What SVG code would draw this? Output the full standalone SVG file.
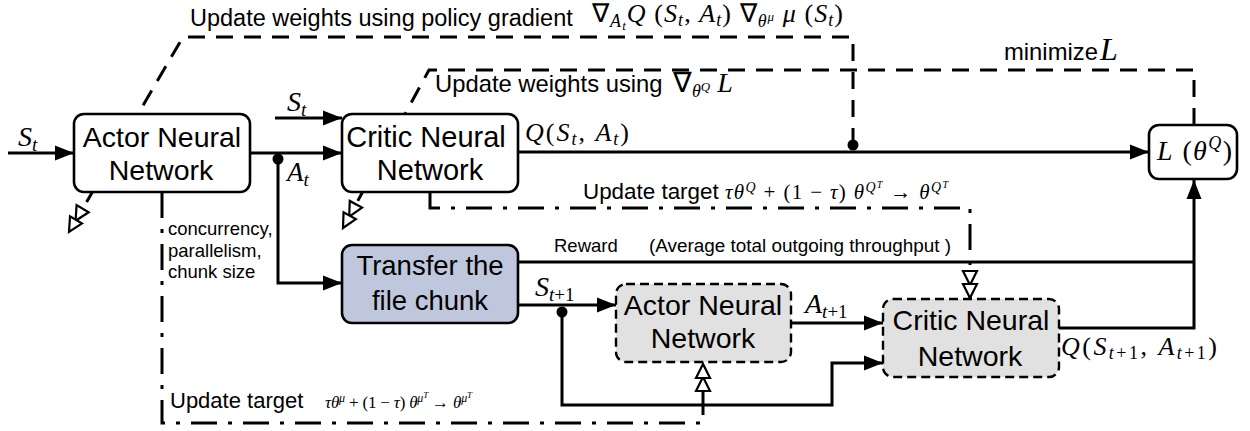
<svg xmlns="http://www.w3.org/2000/svg" width="1250" height="431" viewBox="0 0 1250 431">
<style>
.sans{font-family:"Liberation Sans",Arial,sans-serif;fill:#000}
.m{font-family:"Liberation Serif","Times New Roman",serif;fill:#000}
.i{font-style:italic}
.box{fill:#fff;stroke:#000;stroke-width:2.6}
.tbox{fill:#bfc7dc;stroke:#000;stroke-width:2.6}
.dbox{fill:#e1e1e1;stroke:#000;stroke-width:2.4;stroke-dasharray:9 5}
.ln{fill:none;stroke:#000;stroke-width:3}
.dash{fill:none;stroke:#000;stroke-width:3;stroke-dasharray:17 11}
.dd{fill:none;stroke:#000;stroke-width:3;stroke-dasharray:26 11 4 11}
.arr{marker-end:url(#ah)}
.harr{marker-end:url(#dh)}
</style>
<defs>
<marker id="ah" markerUnits="userSpaceOnUse" viewBox="0 0 20 16" markerWidth="20" markerHeight="16" refX="19" refY="8" orient="auto"><path d="M0,0.5 L19,8 L0,15.5 Z" fill="#000"/></marker>
<marker id="dh" markerUnits="userSpaceOnUse" viewBox="-2 -2 34 20" markerWidth="34" markerHeight="20" refX="29" refY="8" orient="auto" overflow="visible"><path d="M2,1 L16,8 L2,15 Z" fill="#fff" stroke="#000" stroke-width="2.2"/><path d="M15,1 L29,8 L15,15 Z" fill="#fff" stroke="#000" stroke-width="2.2"/></marker>
</defs>

<g id="connectors">
  <path class="ln arr" d="M8,153 L74,153"/>
  <path class="ln arr" d="M275,118 L342,118"/>
  <path class="ln arr" d="M250,153 L342,153"/>
  <path class="ln arr" d="M278,159 L278,283 L342,283"/>
  <circle cx="278" cy="159" r="5.5" fill="#000"/>
  <path class="ln arr" d="M518,152 L1149,152"/>
  <circle cx="853" cy="145" r="5.5" fill="#000"/>
  <path class="ln" d="M518,262 L1194,262"/>
  <path class="ln arr" d="M1059,328 L1194,328 L1194,180"/>
  <path class="ln arr" d="M518,305 L616,305"/>
  <path class="ln arr" d="M562,312 L562,405 L832,405 L832,363 L883,363"/>
  <circle cx="562" cy="312" r="5.5" fill="#000"/>
  <path class="ln arr" d="M791,323 L883,323"/>
  <path class="dash harr" d="M853,145 L853,37 L183,37 L69,232"/>
  <path class="dash harr" d="M1194,125 L1194,70 L429,70 L343,228"/>
  <path class="dd harr" d="M430,192 L430,208 L970,208 L970,298"/>
  <path class="dd harr" d="M162,192 L162,423 L703,423 L703,364"/>
</g>

<g id="actor">
  <rect class="box" x="74" y="114" width="176" height="78" rx="10"/>
  <text class="sans" x="162" y="147" font-size="28.5" text-anchor="middle">Actor Neural</text>
  <text class="sans" x="161" y="180" font-size="28.5" text-anchor="middle">Network</text>
</g>
<g id="critic">
  <rect class="box" x="342" y="114" width="176" height="78" rx="10"/>
  <text class="sans" x="426" y="147" font-size="29" text-anchor="middle">Critic Neural</text>
  <text class="sans" x="430" y="180" font-size="29" text-anchor="middle">Network</text>
</g>
<g id="loss">
  <rect class="box" x="1149" y="125" width="88" height="54" rx="10"/>
  <text class="m" x="1157" y="160" font-size="28" textLength="75" lengthAdjust="spacing"><tspan class="i">L</tspan> (<tspan class="i">θ</tspan><tspan font-size="18" dy="-11" class="i">Q</tspan><tspan dy="11">)</tspan></text>
</g>
<g id="transfer">
  <rect class="tbox" x="342" y="245" width="176" height="78" rx="10"/>
  <text class="sans" x="430" y="275" font-size="27.5" text-anchor="middle">Transfer the</text>
  <text class="sans" x="430" y="310" font-size="27.5" text-anchor="middle">file chunk</text>
</g>
<g id="target-actor">
  <rect class="dbox" x="616" y="284" width="175" height="78" rx="10"/>
  <text class="sans" x="703" y="315" font-size="28.5" text-anchor="middle">Actor Neural</text>
  <text class="sans" x="703" y="348" font-size="28.5" text-anchor="middle">Network</text>
</g>
<g id="target-critic">
  <rect class="dbox" x="883" y="299" width="176" height="78" rx="10"/>
  <text class="sans" x="971" y="330" font-size="28.5" text-anchor="middle">Critic Neural</text>
  <text class="sans" x="970" y="366" font-size="28.5" text-anchor="middle">Network</text>
</g>

<g id="labels">
  <text class="sans" x="190" y="26" font-size="23.5">Update weights using policy gradient</text>
  <text class="m" x="592" y="22" font-size="26" textLength="251" lengthAdjust="spacing">∇<tspan class="i" font-size="18" dy="5">A</tspan><tspan class="i" font-size="13" dy="3">t</tspan><tspan class="i" dy="-8">Q</tspan> (<tspan class="i">S</tspan><tspan class="i" font-size="18" dy="4">t</tspan><tspan dy="-4">, </tspan><tspan class="i">A</tspan><tspan class="i" font-size="18" dy="4">t</tspan><tspan dy="-4">) ∇</tspan><tspan class="i" font-size="18" dy="5">θ</tspan><tspan class="i" font-size="13" dy="-6">μ</tspan><tspan class="i" dy="1"> μ</tspan> (<tspan class="i">S</tspan><tspan class="i" font-size="18" dy="4">t</tspan><tspan dy="-4">)</tspan></text>

  <text class="sans" x="435" y="92" font-size="23.8">Update weights using</text>
  <text class="m" x="673" y="92" font-size="28">∇<tspan class="i" font-size="18" dy="5">θ</tspan><tspan class="i" font-size="13" dy="-6">Q</tspan><tspan class="i" dy="1"> L</tspan></text>

  <text class="sans" x="1004" y="60" font-size="23.8">minimize</text>
  <text class="m i" x="1100" y="60" font-size="32">L</text>

  <text class="m" x="18" y="146" font-size="28"><tspan class="i">S</tspan><tspan class="i" font-size="19" dy="5">t</tspan></text>
  <text class="m" x="287" y="111" font-size="28"><tspan class="i">S</tspan><tspan class="i" font-size="19" dy="5">t</tspan></text>
  <text class="m" x="287" y="181" font-size="27"><tspan class="i">A</tspan><tspan class="i" font-size="19" dy="5">t</tspan></text>
  <text class="m" x="525" y="141" font-size="26" textLength="104" lengthAdjust="spacing"><tspan class="i">Q</tspan>(<tspan class="i">S</tspan><tspan class="i" font-size="18" dy="4">t</tspan><tspan dy="-4">, </tspan><tspan class="i">A</tspan><tspan class="i" font-size="18" dy="4">t</tspan><tspan dy="-4">)</tspan></text>

  <text class="sans" x="583" y="199" font-size="22.4">Update target</text>
  <text class="m" x="725" y="199" font-size="21" textLength="223" lengthAdjust="spacing"><tspan class="i">τθ</tspan><tspan class="i" font-size="14" dy="-7">Q</tspan><tspan dy="7"> + (1 − </tspan><tspan class="i">τ</tspan>) <tspan class="i">θ</tspan><tspan class="i" font-size="14" dy="-7">Q</tspan><tspan class="i" font-size="10" dy="-4">T</tspan><tspan dy="11"> → </tspan><tspan class="i">θ</tspan><tspan class="i" font-size="14" dy="-7">Q</tspan><tspan class="i" font-size="10" dy="-4">T</tspan></text>

  <text class="sans" x="168" y="235" font-size="18.5">concurrency,</text>
  <text class="sans" x="168" y="257" font-size="18.5">parallelism,</text>
  <text class="sans" x="168" y="278" font-size="18.5">chunk size</text>

  <text class="sans" x="554" y="252" font-size="18.5">Reward</text>
  <text class="sans" x="649" y="252" font-size="18.9">(Average total outgoing throughput )</text>

  <text class="m" x="535" y="296" font-size="28"><tspan class="i">S</tspan><tspan font-size="19" dy="5"><tspan class="i">t</tspan>+1</tspan></text>
  <text class="m" x="805" y="313" font-size="28"><tspan class="i">A</tspan><tspan font-size="19" dy="5"><tspan class="i">t</tspan>+1</tspan></text>
  <text class="m" x="1061" y="355" font-size="26" textLength="156" lengthAdjust="spacing"><tspan class="i">Q</tspan>(<tspan class="i">S</tspan><tspan font-size="18" dy="4"><tspan class="i">t</tspan>+1</tspan><tspan dy="-4">, </tspan><tspan class="i">A</tspan><tspan font-size="18" dy="4"><tspan class="i">t</tspan>+1</tspan><tspan dy="-4">)</tspan></text>

  <text class="sans" x="170" y="408" font-size="22">Update target</text>
  <text class="m" x="325" y="408" font-size="17" textLength="147" lengthAdjust="spacing"><tspan class="i">τθ</tspan><tspan class="i" font-size="12" dy="-6">μ</tspan><tspan dy="6"> + (1 − </tspan><tspan class="i">τ</tspan>) <tspan class="i">θ</tspan><tspan class="i" font-size="12" dy="-6">μ</tspan><tspan class="i" font-size="9" dy="-4">T</tspan><tspan dy="10"> → </tspan><tspan class="i">θ</tspan><tspan class="i" font-size="12" dy="-6">μ</tspan><tspan class="i" font-size="9" dy="-4">T</tspan></text>
</g>
</svg>
